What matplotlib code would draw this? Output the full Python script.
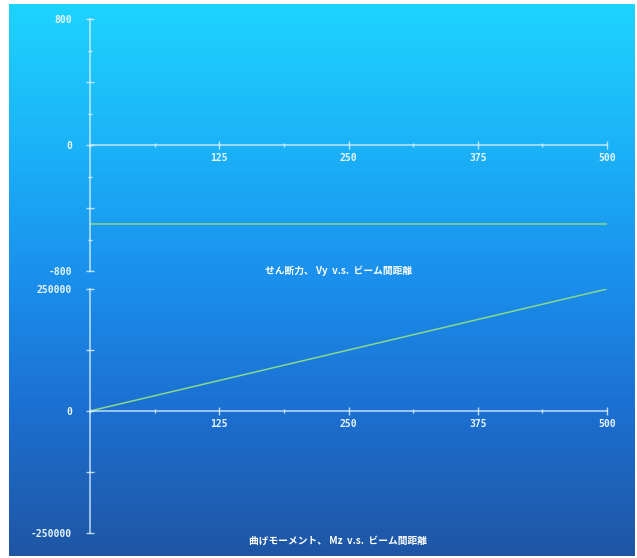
import numpy as np
import matplotlib
matplotlib.use("Agg")
import matplotlib.pyplot as plt
from matplotlib.colors import LinearSegmentedColormap
from matplotlib.ticker import FixedLocator, MultipleLocator, FuncFormatter

plt.rcParams['axes.unicode_minus'] = False

# data
beam_x = [0, 500]
shear_vy = [-500, -500]
moment_mz = [0, 250000]

x_ticks = [125, 250, 375, 500]
shear_ticks = [-800, 0, 800]
moment_ticks = [-250000, 0, 250000]

shear_title = "せん断力、 Vy  v.s.  ビーム間距離"
moment_title = "曲げモーメント、 Mz  v.s.  ビーム間距離"

W, H = 637, 558
AX_COL = (0.86, 0.94, 1.0, 0.85)
LINE_COL = "#86d98c"
FONT = ['Noto Sans CJK JP', 'DejaVu Sans']


def style_axes(ax, ylim, yticks, yminor, xlabel_pad):
    ax.set_facecolor("none")
    ax.set_xlim(0, 500)
    ax.set_ylim(*ylim)
    for s in ("top", "right"):
        ax.spines[s].set_visible(False)
    ax.spines["left"].set_position(("data", 0))
    ax.spines["bottom"].set_position(("data", 0))
    for s in ("left", "bottom"):
        ax.spines[s].set_color(AX_COL)
        ax.spines[s].set_linewidth(1.1)
    ax.xaxis.set_major_locator(FixedLocator(x_ticks))
    ax.xaxis.set_minor_locator(MultipleLocator(62.5))
    ax.yaxis.set_major_locator(MultipleLocator(yminor * 2))
    ax.yaxis.set_minor_locator(MultipleLocator(yminor))
    ax.yaxis.set_major_formatter(
        FuncFormatter(lambda v, p: f"{int(round(v))}" if round(v) in yticks else ""))
    ax.tick_params(which="both", colors=AX_COL, direction="inout", width=1.0)
    ax.tick_params(which="major", length=6)
    ax.tick_params(which="minor", length=3.5)
    ax.tick_params(axis="y", which="major", pad=10, labelsize=7,
                   labelcolor=(0.9, 0.96, 1.0))
    ax.tick_params(axis="x", which="major", pad=xlabel_pad, labelsize=7,
                   labelcolor=(0.9, 0.96, 1.0))
    for lbl in ax.get_xticklabels() + ax.get_yticklabels():
        lbl.set_family("DejaVu Sans Mono")
        lbl.set_fontweight("bold")


fig = plt.figure(figsize=(W / 100, H / 100), dpi=100, facecolor="white")

# gradient background
bg = fig.add_axes([9 / W, 2 / H, 626 / W, 552 / H])
cmap = LinearSegmentedColormap.from_list(
    "bg", [(0.0, "#1ed4ff"), (0.26, "#1bb2f8"), (0.5, "#1a8fec"),
           (0.74, "#1c6fd0"), (1.0, "#1f56a4")])
grad = np.linspace(0, 1, 256).reshape(-1, 1)
bg.imshow(grad, aspect="auto", cmap=cmap, extent=[0, 1, 0, 1])
bg.set_axis_off()

# shear panel
ax1 = fig.add_axes([90 / W, 1 - 271 / H, 517 / W, 252 / H])
ax1.plot(beam_x, shear_vy, color=LINE_COL, lw=1.1)
style_axes(ax1, (-800, 800), shear_ticks, 200, 3)
ax1.text(0.48, 0.0, shear_title, transform=ax1.transAxes, ha="center",
         va="center", color="white", fontsize=7, family=FONT,
         fontweight="bold")

# moment panel
ax2 = fig.add_axes([90 / W, 1 - 533 / H, 517 / W, 244 / H])
ax2.plot(beam_x, moment_mz, color=LINE_COL, lw=1.1)
style_axes(ax2, (-250000, 250000), moment_ticks, 62500, 3)
ax2.yaxis.set_major_locator(MultipleLocator(125000))
ax2.yaxis.set_minor_locator(MultipleLocator(125000))
ax2.text(0.48, -0.03, moment_title, transform=ax2.transAxes, ha="center",
         va="center", color="white", fontsize=7, family=FONT,
         fontweight="bold")

fig.savefig("out.png", dpi=100, facecolor="white")
